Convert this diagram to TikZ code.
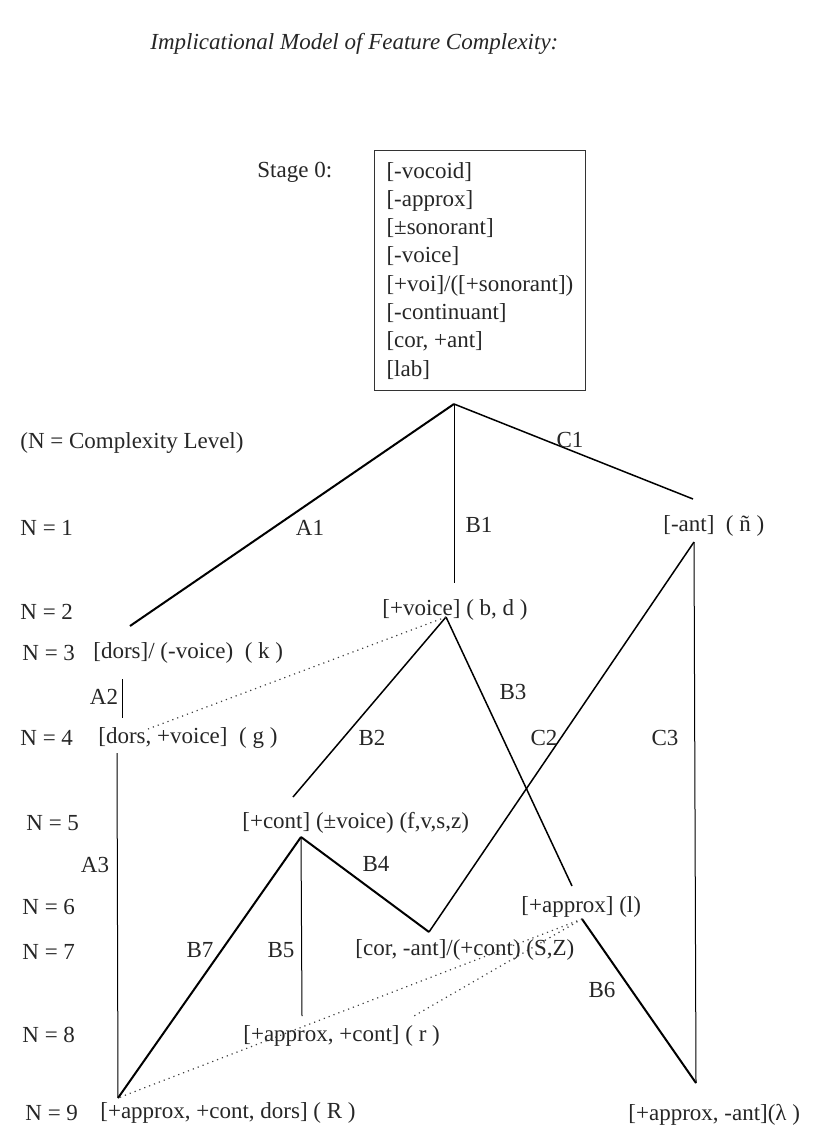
\documentclass[tikz,border=0pt]{standalone}
\usepackage{fontspec}
\setmainfont{Liberation Serif}

\begin{document}
\begin{tikzpicture}[x=0.5pt, y=-0.5pt,
        font=\fontsize{11.5}{14}\selectfont,
        every node/.style={inner sep=0pt, text=black!85},
        txt/.style={anchor=west},
        heavy/.style={line width=1pt},
        mid/.style={line width=0.75pt},
        light/.style={line width=0.5pt},
        link/.style={dotted, line width=0.6pt, black!75}]
        \useasboundingbox (0,0) rectangle (824,1144);

        % Title
        \node[txt, font=\fontsize{11.5}{14}\selectfont\itshape] (title) at (150,44) {Implicational Model of Feature Complexity:};

        % Stage 0
        \node[txt] (stage) at (257,172) {Stage 0:};
        \node[draw=black!80, line width=0.5pt, anchor=north west, align=left,
              inner xsep=6pt, inner ysep=5.8pt, font=\fontsize{11.5}{14.15}\selectfont] (box) at (374,150)
            {{[-vocoid]}\\ {[-approx]}\\ {[±sonorant]}\\ {[-voice]}\\ {[+voi]/([+sonorant])}\\ {[-continuant]}\\ {[cor, +ant]}\\ {[lab]}};

        % Complexity levels
        \node[txt] (cpx) at (20,443) {(N = Complexity Level)};
        \node[txt] (n1) at (20,528) {N = 1};
        \node[txt] (n2) at (20,612) {N = 2};
        \node[txt] (n3) at (22,653) {N = 3};
        \node[txt] (n4) at (20,738) {N = 4};
        \node[txt] (n5) at (26,823) {N = 5};
        \node[txt] (n6) at (22,907) {N = 6};
        \node[txt] (n7) at (22,952) {N = 7};
        \node[txt] (n8) at (22,1035) {N = 8};
        \node[txt] (n9) at (25,1113) {N = 9};

        % Features
        \node[txt] (ant) at (663,526) {[-ant] \ ( ñ )};
        \node[txt] (voi) at (382,610) {[+voice] ( b, d )};
        \node[txt] (kk) at (93,653) {[dors]/ (-voice) \ ( k )};
        \node[txt] (gg) at (98,738) {[dors, +voice] \ ( g )};
        \node[txt] (fric) at (242,823) {[+cont] (±voice) (f,v,s,z)};
        \node[txt] (lat) at (521,907) {[+approx] (l)};
        \node[txt] (post) at (355,950) {[cor, -ant]/(+cont) (S,Z)};
        \node[txt] (rr) at (243,1036) {[+approx, +cont] ( r )};
        \node[txt] (uv) at (100,1113) {[+approx, +cont, dors] ( R )};
        \node[txt] (pal) at (628,1115) {[+approx, -ant](λ )};

        % Branch points
        \coordinate (root) at (454,404);
        \coordinate (a1) at (130,626);
        \coordinate (b1) at (454,583);
        \coordinate (c1) at (693,499);
        \coordinate (antv) at (694,542);
        \coordinate (voiv) at (446,617);
        \coordinate (a2t) at (122,679);
        \coordinate (a2b) at (122,718);
        \coordinate (gv) at (117,753);
        \coordinate (gdot) at (148,729);
        \coordinate (b2) at (293,797);
        \coordinate (fricv) at (301,837);
        \coordinate (b3) at (572,886);
        \coordinate (cv) at (429,932);
        \coordinate (b5) at (302,1016);
        \coordinate (latv) at (582,919);
        \coordinate (rdot) at (414,1016);
        \coordinate (uvv) at (118,1098);
        \coordinate (palv) at (696,1083);

        % Branches
        \draw[heavy] (root) -- (a1);
        \draw[light] (root) -- (b1);
        \draw[mid] (root) -- (c1);
        \draw[light] (a2t) -- (a2b);
        \draw[light] (gv) -- (uvv);
        \draw[mid] (voiv) -- (b2);
        \draw[mid] (voiv) -- (b3);
        \draw[mid] (antv) -- (cv);
        \draw[light] (antv) -- (palv);
        \draw[heavy] (fricv) -- (cv);
        \draw[light] (fricv) -- (b5);
        \draw[heavy] (fricv) -- (uvv);
        \draw[heavy] (latv) -- (palv);

        % Dotted links
        \draw[link] (voiv) -- (gdot);
        \draw[link] (latv) -- (uvv);
        \draw[link] (latv) -- (rdot);

        % Branch names
        \node (lA1) at (310,528) {A1};
        \node (lB1) at (479,525) {B1};
        \node (lC1) at (570,440) {C1};
        \node (lA2) at (104,697) {A2};
        \node (lA3) at (95,865) {A3};
        \node (lB2) at (372,738) {B2};
        \node (lB3) at (513,692) {B3};
        \node (lC2) at (544,738) {C2};
        \node (lC3) at (665,738) {C3};
        \node (lB4) at (376,864) {B4};
        \node (lB7) at (200,950) {B7};
        \node (lB5) at (281,950) {B5};
        \node (lB6) at (602,990) {B6};
    \end{tikzpicture}
\end{document}
